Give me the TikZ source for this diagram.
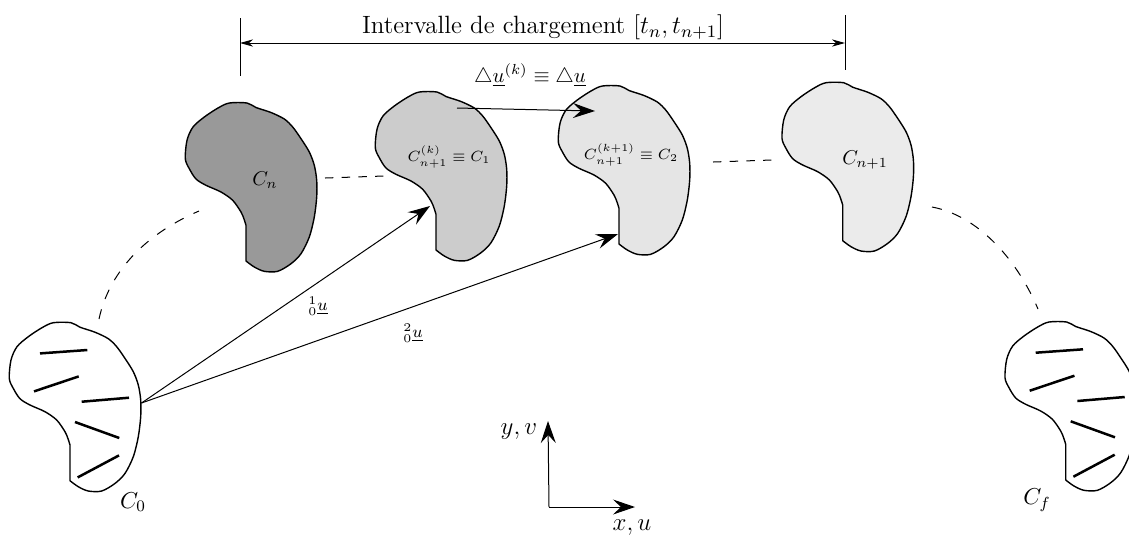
\documentclass[tikz,border=0pt]{standalone}
\usepackage{fix-cm}
\usetikzlibrary{arrows.meta}
\tikzset{
  outline/.style={draw=black,line width=0.7pt,line join=round},
  fiber/.style={draw=black,line width=1.25pt},
  thin line/.style={draw=black,line width=0.5pt},
  dashline/.style={draw=black,line width=0.5pt,dash pattern=on 5pt off 5.5pt},
  short dashline/.style={draw=black,line width=0.5pt,dash pattern=on 4.2pt off 4.15pt},
  big arrow/.style={thin line,-{Stealth[length=11pt,width=7.5pt,inset=4pt]}},
  dim arrow/.style={thin line,{Stealth[length=6.5pt,width=3.6pt,inset=2pt]}-{Stealth[length=6.5pt,width=3.6pt,inset=2pt]}},
  lab/.style={inner sep=0pt,text=black},
  title lab/.style={lab,font=\fontsize{12.5}{15}\selectfont},
  delta lab/.style={lab,font=\fontsize{10.4}{13}\selectfont},
  axis lab/.style={lab,font=\fontsize{12.5}{15}\selectfont},
  end lab/.style={lab,font=\fontsize{11.5}{14}\selectfont},
  config lab/.style={lab,font=\fontsize{7.4}{9}\selectfont},
  disp lab/.style={lab,font=\fontsize{8.4}{10}\selectfont}
}
\newcommand{\blobpath}[1]{%
  \path[outline,fill=#1] (0,0) -- (0,-35.7)
  plot[smooth,tension=0.5] coordinates {(0,-35.7) (-2,-42) (-5,-49) (-13.3,-60.7) (-25,-69) (-40,-75.7)
   (-50,-82) (-56.7,-92.3) (-60.7,-102.3) (-59,-120.7) (-53,-134) (-41.7,-144) (-28,-153)
   (-16.7,-158) (1,-158) (10,-153.5) (25,-148.5) (38.3,-142) (46.7,-134) (55,-122.3)
   (63.3,-109) (68.3,-95.7) (70.7,-80.7) (70.7,-64) (68.3,-44) (63.3,-24) (55,-7.3)
   (45,2.7) (31.7,10.3) (18.3,10.3) (8.3,6) (0,0)} -- cycle;}
\newcommand{\fibers}{%
  \draw[fiber] (-30,-127.3) -- (17.3,-130.7);
  \draw[fiber] (-36,-89.3) -- (8.7,-104.3);
  \draw[fiber] (11.7,-79) -- (59,-83);
  \draw[fiber] (5,-58.7) -- (49.3,-42.7);
  \draw[fiber] (7.7,-3.3) -- (49,-25.3);}
\begin{document}
\begin{tikzpicture}[x=0.5pt,y=-0.5pt]
\useasboundingbox (0,0) rectangle (1129,538);
% shapes
\begin{scope}[shift={(70,480.7)}]\blobpath{white}\fibers\end{scope}
\begin{scope}[shift={(246,261)}]\blobpath{black!40}\end{scope}
\begin{scope}[shift={(436,250)}]\blobpath{black!20}\end{scope}
\begin{scope}[shift={(619,244)}]\blobpath{black!10}\end{scope}
\begin{scope}[shift={(842.7,240.7)}]\blobpath{black!8}\end{scope}
\begin{scope}[shift={(1065.7,480)}]\blobpath{white}\fibers\end{scope}
% coordinates
\coordinate (dimL) at (240,43);
\coordinate (dimR) at (845,43);
\coordinate (tickLa) at (240,18);
\coordinate (tickLb) at (240,76);
\coordinate (tickRa) at (845,15);
\coordinate (tickRb) at (845,70);
\coordinate (orig) at (141.5,403);
\coordinate (end1) at (430,206);
\coordinate (end2) at (618,234);
\coordinate (dA) at (457,108);
\coordinate (dB) at (595,111);
\coordinate (ax0) at (549,507);
\coordinate (axY) at (548,421);
\coordinate (axX) at (635,507);
\coordinate (la) at (99,319);
\coordinate (lb) at (199,211);
\coordinate (ma) at (325,178);
\coordinate (mb) at (384,176);
\coordinate (ra) at (713,162);
\coordinate (rb) at (772,160);
\coordinate (sa) at (932,207);
\coordinate (sb) at (1038,309);
% connectors
\draw[dim arrow] (dimL) -- (dimR);
\draw[thin line] (tickLa) -- (tickLb);
\draw[thin line] (tickRa) -- (tickRb);
\draw[big arrow] (orig) -- (end1);
\draw[big arrow] (orig) -- (end2);
\draw[big arrow] (dA) -- (dB);
\draw[big arrow] (ax0) -- (axY);
\draw[big arrow] (ax0) -- (axX);
\path[dashline] (la) .. controls (110,268) and (150,232) .. (lb);
\path[short dashline] (ma) -- (mb);
\path[short dashline] (ra) -- (rb);
\path[dashline] (sa) .. controls (975,215) and (1015,255) .. (sb);
% labels
\node[title lab] (title) at (543,27) {Intervalle de chargement $[t_n,t_{n+1}]$};
\node[delta lab] (delta) at (530,75) {$\triangle\underline{u}^{(k)}\equiv\triangle\underline{u}$};
\node[lab] (cn) at (265,180) {$C_n$};
\node[config lab] (c1) at (449,157) {$C_{n+1}^{(k)}\equiv C_1$};
\node[config lab] (c2) at (631,155) {$C_{n+1}^{(k+1)}\equiv C_2$};
\node[lab] (cn1) at (865,160) {$C_{n+1}$};
\node[end lab] (c0) at (133,502) {$C_0$};
\node[end lab] (cf) at (1037,500) {$C_f$};
\node[disp lab] (u1) at (318,306) {${}^1_0\underline{u}$};
\node[disp lab] (u2) at (413,333) {${}^2_0\underline{u}$};
\node[axis lab] (yv) at (519,432) {$y,v$};
\node[axis lab] (xu) at (632,528) {$x,u$};
\end{tikzpicture}
\end{document}
